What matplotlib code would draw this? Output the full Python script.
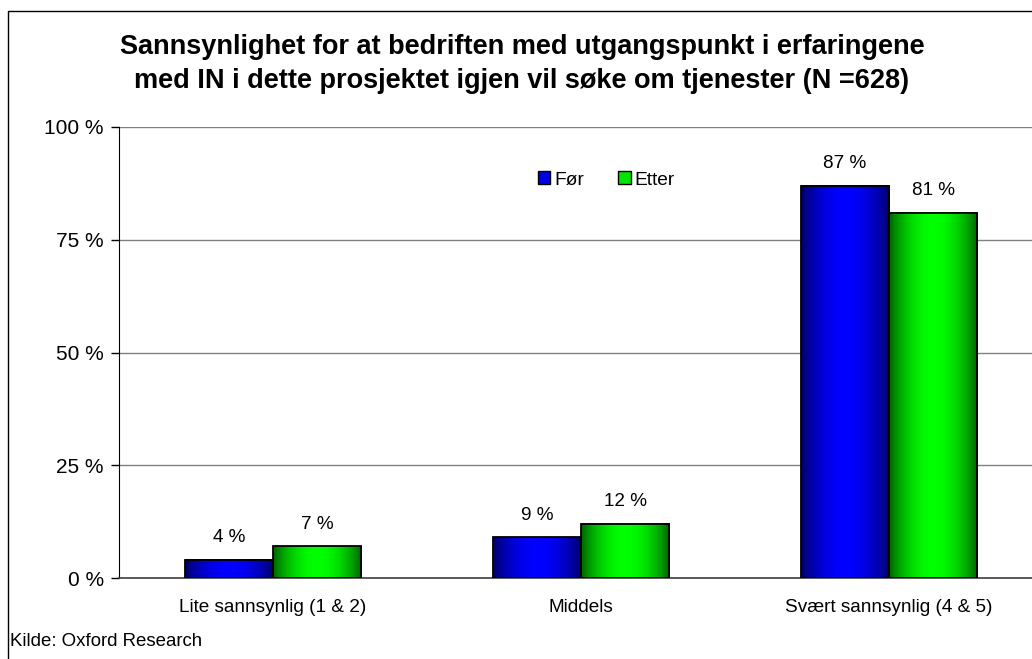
import numpy as np
import matplotlib
matplotlib.use("Agg")
import matplotlib.pyplot as plt
from matplotlib.patches import Rectangle, Patch
from matplotlib.colors import LinearSegmentedColormap

plt.rcParams['font.family'] = ['Liberation Sans', 'DejaVu Sans']

title = "Sannsynlighet for at bedriften med utgangspunkt i erfaringene\nmed IN i dette prosjektet igjen vil søke om tjenester (N =628)"
categories = ["Lite sannsynlig (1 & 2)", "Middels", "Svært sannsynlig (4 & 5)"]
series_names = ["Før", "Etter"]
for_values = [4, 9, 87]
etter_values = [7, 12, 81]
yticks = [0, 25, 50, 75, 100]
ytick_labels = ["0 %", "25 %", "50 %", "75 %", "100 %"]
source = "Kilde: Oxford Research"

W, H = 1032, 659
fig = plt.figure(figsize=(W / 100, H / 100), dpi=100)
fig.patch.set_facecolor("white")

# outer frame (cut off on right/bottom)
fig.patches.append(Rectangle((8 / W, -0.05), 1.2, 1 - 11 / H + 0.05,
                             transform=fig.transFigure, fill=False,
                             edgecolor="black", linewidth=1.0))

left, right, top, bottom = 119, 1043, 127, 578
ax = fig.add_axes([left / W, (H - bottom) / H, (right - left) / W, (bottom - top) / H])
ax.set_facecolor("white")

blue_cmap = LinearSegmentedColormap.from_list("b", [(0, 0, 0.38), (0, 0, 1.0)])
green_cmap = LinearSegmentedColormap.from_list("g", [(0, 0.36, 0), (0, 1.0, 0)])

xs = np.arange(len(categories))
bw = 0.286
t = np.linspace(0, 1, 200)
prof = np.sin(np.pi * t) ** 0.8
grad = prof[np.newaxis, :]

for vals, cmap, off in [(for_values, blue_cmap, -bw / 2), (etter_values, green_cmap, bw / 2)]:
    for x, v in zip(xs, vals):
        x0 = x + off - bw / 2
        ax.imshow(grad, cmap=cmap, extent=[x0, x0 + bw, 0, v], aspect='auto',
                  origin='lower', zorder=3, interpolation='bilinear')
        ax.add_patch(Rectangle((x0, 0), bw, v, fill=False, edgecolor='black',
                               linewidth=1.3, zorder=4))
        ax.annotate(f"{v} %", (x0 + bw / 2, v), xytext=(0, 10), textcoords='offset points',
                    ha='center', va='bottom', fontsize=13.6, color='black', zorder=5)

ax.set_xlim(-0.5, len(categories) - 0.5)
ax.set_ylim(0, 100)
ax.set_yticks(yticks)
ax.set_yticklabels(ytick_labels, fontsize=15)
ax.set_xticks(xs)
ax.set_xticklabels(categories, fontsize=13.7)
ax.tick_params(axis='x', length=0, pad=15)
ax.tick_params(axis='y', length=6, width=1, direction='out', pad=5, color='black')
ax.yaxis.grid(True, color='#808080', linewidth=1)
ax.set_axisbelow(True)
for s in ['top', 'right']:
    ax.spines[s].set_visible(False)
ax.spines['left'].set_color('black')
ax.spines['bottom'].set_color('#404040')
ax.spines['bottom'].set_linewidth(1.2)

handles = [Patch(facecolor=(0, 0, 0.9), edgecolor='black', label=series_names[0]),
           Patch(facecolor=(0, 0.9, 0), edgecolor='black', label=series_names[1])]
ax.legend(handles=handles, loc='center left', bbox_to_anchor=((530 - left) / (right - left), (bottom - 180) / (bottom - top)),
          ncol=2, frameon=False, fontsize=13.8, handlelength=0.65, handleheight=0.65,
          handletextpad=0.2, columnspacing=1.8, borderaxespad=0)

fig.text(522 / W, 1 - 64 / H, title, ha='center', va='center', fontsize=19.5,
         fontweight='bold', linespacing=1.38)
fig.text(10 / W, 1 - 641 / H, source, ha='left', va='center', fontsize=13.4)

fig.savefig("out.png", dpi=100)
